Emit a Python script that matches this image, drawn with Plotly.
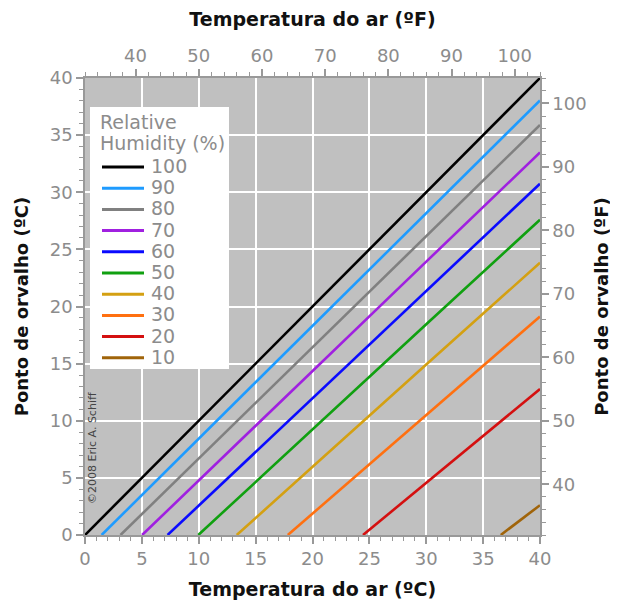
import plotly.graph_objects as go

# Relative humidity series (%)
rh_labels = ["100", "90", "80", "70", "60", "50", "40", "30", "20", "10"]
rh_colors = ["#000000", "#1e9bff", "#808080", "#a020e0", "#0a0aff",
             "#10a010", "#d4a012", "#ff7010", "#d41010", "#a0640a"]

# Air temperature (°C) points for each line
temp_pts = [
    [0, 10, 20, 30, 40],
    [1.46, 10, 20, 30, 40],
    [3.12, 10, 20, 30, 40],
    [5.02, 10, 20, 30, 40],
    [7.26, 10, 20, 30, 40],
    [9.96, 20, 30, 40],
    [13.34, 20, 30, 40],
    [17.83, 20, 30, 40],
    [24.44, 30, 40],
    [36.55, 40],
]
# Dew point (°C) at those temperatures
dew_pts = [
    [0, 10, 20, 30, 40],
    [0, 8.43, 18.31, 28.18, 38.04],
    [0, 6.71, 16.44, 26.17, 35.89],
    [0, 4.78, 14.36, 23.93, 33.48],
    [0, 2.58, 12.00, 21.39, 30.75],
    [0, 9.26, 18.44, 27.60],
    [0, 5.98, 14.92, 23.83],
    [0, 1.88, 10.53, 19.13],
    [0, 4.58, 12.78],
    [0, 2.61],
]

c_ticks = [0, 5, 10, 15, 20, 25, 30, 35, 40]
f_ticks = [40, 50, 60, 70, 80, 90, 100]

FONT = "DejaVu Sans"
TICKC = "#8c8c8c"
AXC = "#999999"
TITLEC = "#111111"

OFF = 8  # page body margin
W, H = 618 - OFF, 601 - OFF
ML, MT = 85 - OFF, 78 - OFF
MR = W - ML - 455
MB = H - MT - 457
PW, PH = W - ML - MR, H - MT - MB


def px(xpix):
    return (xpix - OFF - ML) / PW


def py(ypix):
    return (MT + PH - (ypix - OFF)) / PH


fig = go.Figure()
for lab, col, xs, ys in zip(rh_labels, rh_colors, temp_pts, dew_pts):
    fig.add_trace(go.Scatter(x=xs, y=ys, mode="lines", name=lab,
                             line=dict(color=col, width=2.6),
                             showlegend=False, xaxis="x", yaxis="y"))

# invisible trace to anchor Fahrenheit axes
fig.add_trace(go.Scatter(x=[32, 104], y=[32, 104], mode="lines",
                         line=dict(width=0, color="rgba(0,0,0,0)"),
                         showlegend=False, hoverinfo="skip",
                         xaxis="x2", yaxis="y2"))

common = dict(showline=True, linecolor=AXC, linewidth=1.5, ticks="outside",
              tickcolor=AXC, ticklen=7, tickwidth=1.5, automargin=False,
              tickfont=dict(family=FONT, size=18, color=TICKC),
              zeroline=False)
minor_c = dict(dtick=1, ticklen=4, tickcolor=AXC, tickwidth=1.2,
               ticks="outside", showgrid=False)
minor_f = dict(dtick=2, tick0=32, ticklen=4, tickcolor=AXC, tickwidth=1.2,
               ticks="outside", showgrid=False)

fig.update_layout(
    width=W, height=H,
    margin=dict(l=ML, r=MR, t=MT, b=MB),
    paper_bgcolor="white", plot_bgcolor="#c0c0c0",
    font=dict(family=FONT),
    showlegend=False,
    xaxis=dict(range=[0, 40], tickvals=c_ticks, showgrid=True,
               gridcolor="white", gridwidth=2, minor=minor_c,
               title=dict(text="<b>Temperatura do ar (ºC)</b>", standoff=14,
                          font=dict(family=FONT, size=19, color=TITLEC)),
               **common),
    yaxis=dict(range=[0, 40], tickvals=c_ticks, showgrid=True,
               gridcolor="white", gridwidth=2, minor=minor_c,
               title=dict(text="<b>Ponto de orvalho (ºC)</b>", standoff=16,
                          font=dict(family=FONT, size=18, color=TITLEC)),
               **common),
    xaxis2=dict(range=[32, 104], tickvals=f_ticks, overlaying="x", side="top",
                anchor="y", showgrid=False, minor=minor_f,
                title=dict(text="<b>Temperatura do ar (ºF)</b>", standoff=14,
                           font=dict(family=FONT, size=19, color=TITLEC)),
                **common),
    yaxis2=dict(range=[32, 104], tickvals=f_ticks, overlaying="y", side="right",
                anchor="x", showgrid=False, minor=minor_f,
                title=dict(text="<b>Ponto de orvalho (ºF)</b>", standoff=10,
                           font=dict(family=FONT, size=18, color=TITLEC)),
                **common),
)

# Manual legend box
fig.add_shape(type="rect", xref="paper", yref="paper",
              x0=px(90), x1=px(229), y0=py(369), y1=py(107),
              fillcolor="white", line=dict(width=0), layer="above")
fig.add_annotation(text="Relative", xref="paper", yref="paper",
                   x=px(98), y=py(122), xanchor="left", yanchor="middle",
                   showarrow=False, font=dict(family=FONT, size=19, color=TICKC))
fig.add_annotation(text="Humidity (%)", xref="paper", yref="paper",
                   x=px(98), y=py(143), xanchor="left", yanchor="middle",
                   showarrow=False, font=dict(family=FONT, size=19, color=TICKC))
for i, (lab, col) in enumerate(zip(rh_labels, rh_colors)):
    yy = 167 + 21.2 * i
    fig.add_shape(type="line", xref="paper", yref="paper",
                  x0=px(102), x1=px(144), y0=py(yy), y1=py(yy),
                  line=dict(color=col, width=3), layer="above")
    fig.add_annotation(text=lab, xref="paper", yref="paper",
                       x=px(149), y=py(yy - 1), xanchor="left", yanchor="middle",
                       showarrow=False,
                       font=dict(family=FONT, size=19, color=TICKC))

fig.add_annotation(text="©2008 Eric A. Schiff", xref="paper", yref="paper",
                   x=px(92), y=py(448), textangle=-90, showarrow=False,
                   xanchor="center", yanchor="middle",
                   font=dict(family=FONT, size=11, color="#444444"))

fig.write_html("out.html")
